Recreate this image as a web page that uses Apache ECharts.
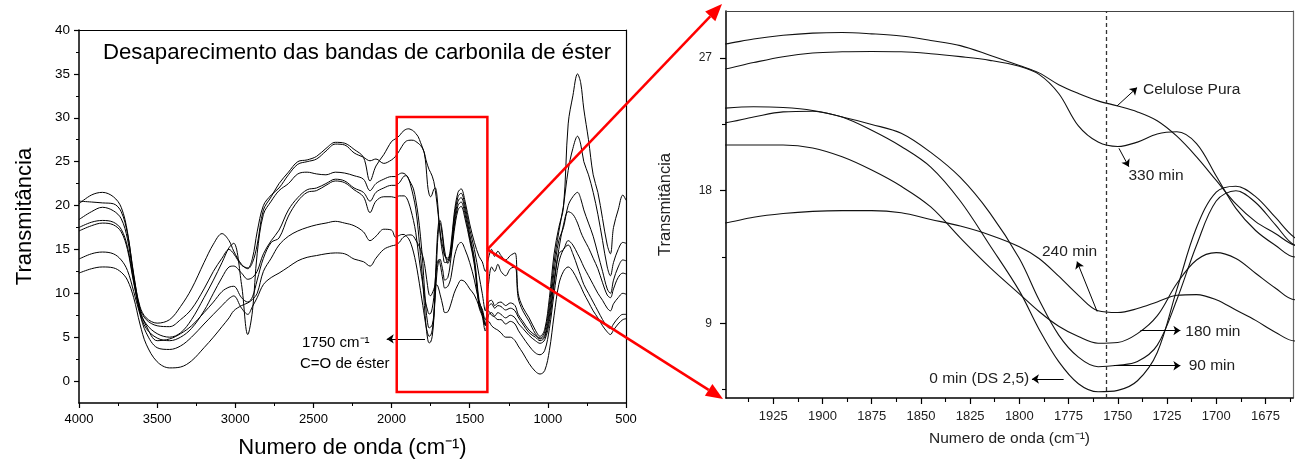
<!DOCTYPE html>
<html>
<head>
<meta charset="utf-8">
<script src="https://cdn.jsdelivr.net/npm/echarts@6/dist/echarts.min.js"></script>
<style>
  html, body { margin: 0; padding: 0; background: #fff; }
  #chart { width: 1299px; height: 463px; }
</style>
</head>
<body>
<div id="chart"></div>
<script>
// Wavenumber grid (cm-1) shared by every spectrum
const wavenumbers = [
  4000, 3920, 3850, 3780, 3730, 3690, 3650, 3610, 3570, 3500,
  3420, 3350, 3280, 3200, 3140, 3085, 3040, 3010, 2960, 2920,
  2890, 2860, 2820, 2770, 2720, 2660, 2600, 2540, 2480, 2420,
  2360, 2300, 2240, 2180, 2138, 2100, 2050, 2000,
  1975, 1950, 1935, 1920, 1905, 1890, 1875, 1860, 1845, 1830,
  1815, 1800, 1790, 1780, 1770, 1760, 1750, 1740, 1730, 1720,
  1710, 1700, 1690, 1680, 1670, 1660,
  1640, 1620, 1600, 1575, 1555, 1530, 1500, 1470, 1440, 1420,
  1400, 1380, 1360, 1340, 1320, 1300, 1270, 1240, 1210, 1190,
  1160, 1120, 1080, 1050, 1020, 990, 960, 930, 900, 870,
  840, 810, 790, 770, 740, 710, 680, 650, 620, 600,
  580, 550, 520, 500
];

// Transmittance (%) of each sample on the grid above
const celulosePura = [
  20.2, 21.2, 21.5, 21.0, 19.8, 17.0, 12.0, 8.5, 7.2, 6.6,
  7.0, 8.5, 10.5, 13.5, 15.6, 16.8, 16.0, 14.8, 13.3, 12.8,
  13.5, 15.5, 19.5, 21.0, 22.5, 23.8, 25.0, 25.2, 25.6, 26.5,
  27.2, 27.1, 26.4, 25.5, 22.8, 24.5, 25.8, 27.3,
  27.6, 27.95, 28.3, 28.55, 28.7, 28.74, 28.65, 28.5, 28.2, 27.85,
  27.2, 26.5, 26.0, 25.2, 24.6, 24.1, 23.75, 23.35, 22.75, 21.7,
  20.3, 18.7, 17.1, 15.9, 15.1, 14.3,
  14.0, 15.5, 19.0, 21.5, 21.9, 20.5, 17.9, 15.8, 14.2, 13.6,
  12.5, 14.0, 15.0, 14.2, 14.8, 14.3, 13.8, 14.3, 14.6, 10.0,
  8.4, 7.2, 5.8, 5.1, 5.9, 9.5, 14.5, 17.5, 19.8, 29.3,
  32.5, 35.0, 34.0, 31.0, 27.5, 23.5, 21.5, 18.5, 15.5, 14.5,
  17.5, 19.5, 21.2, 20.6
];
const min330 = [
  20.5, 20.4, 20.3, 20.2, 19.3, 16.8, 12.2, 8.3, 7.0, 6.3,
  6.2, 7.0, 8.2, 10.5, 12.5, 14.0, 15.0, 14.5, 13.2, 12.9,
  14.0, 17.0, 20.0, 21.2, 22.0, 23.5, 24.7, 25.0, 25.3, 26.2,
  27.0, 26.9, 26.0, 25.5, 25.1, 25.3, 24.8, 25.2,
  25.6, 26.25, 26.7, 27.1, 27.35, 27.43, 27.45, 27.43, 27.3, 27.1,
  26.85, 26.45, 25.9, 24.6, 22.4, 21.3, 21.0, 21.3, 21.85, 22.0,
  21.2, 19.0, 16.8, 15.3, 14.3, 13.5,
  13.6, 15.0, 18.5, 21.0, 21.4, 20.0, 17.3, 15.0, 12.0, 10.0,
  8.0, 11.0, 13.0, 12.5, 13.3, 12.5, 12.0, 12.8, 13.0, 9.5,
  8.0, 6.8, 5.4, 4.9, 5.6, 8.7, 13.5, 17.0, 20.0, 24.0,
  26.5, 27.9, 27.0, 25.0, 23.5, 21.5, 19.0, 16.0, 13.0, 12.0,
  13.5, 15.0, 15.8, 15.7
];
const min240 = [
  13.9, 14.5, 14.7, 14.5, 13.8, 12.6, 10.2, 7.6, 5.5, 3.8,
  3.6, 4.0, 5.0, 6.5, 7.6, 8.6, 9.4, 9.7, 8.3, 7.6,
  8.5, 9.5, 11.0, 11.8, 12.3, 13.0, 13.7, 14.1, 14.3, 14.5,
  14.6, 14.5, 13.9, 13.6, 13.1, 14.0, 15.0, 15.4,
  15.5, 15.8, 16.2, 16.45, 16.6, 16.65, 16.65, 16.5, 16.05, 15.6,
  15.0, 14.2, 13.4, 12.2, 10.9, 9.85, 9.73, 10.0, 10.45, 10.9,
  10.95, 10.6, 9.9, 9.2, 8.4, 7.8,
  7.9, 8.8, 10.0, 11.0, 11.5, 11.3, 10.5, 9.8, 8.5, 7.6,
  6.4, 6.8, 6.3, 6.0, 5.8, 5.5, 5.0, 5.0, 4.6, 4.0,
  3.2, 2.0, 1.1, 0.8, 1.2, 3.5, 7.5, 11.0, 12.5, 13.0,
  12.5, 11.5, 10.8, 10.0, 9.0, 8.0, 7.2, 6.3, 5.6, 5.3,
  5.8, 6.5, 7.0, 7.1
];
const min180 = [
  17.1, 17.7, 18.0, 17.8, 17.0, 15.0, 11.2, 8.0, 6.3, 4.6,
  4.8, 5.4, 6.3, 7.8, 9.0, 10.2, 10.7, 10.8, 9.5, 9.0,
  9.6, 11.5, 14.0, 15.8, 16.3, 18.8, 20.5, 21.5, 21.7, 22.3,
  22.8, 22.6, 21.8, 21.0, 19.2, 20.5, 21.0, 21.0,
  20.9, 21.1, 21.1, 21.1, 20.9, 20.3, 19.4, 18.3, 16.9, 14.8,
  12.8, 11.0, 9.8, 8.8, 8.1, 7.65, 7.7, 8.3, 9.5, 11.7,
  13.3, 13.8, 13.4, 12.4, 11.4, 10.6,
  10.8, 11.8, 14.0, 15.5, 15.8, 15.0, 13.5, 11.5, 9.0, 8.2,
  7.0, 8.0, 7.5, 7.3, 7.0, 7.0, 6.5, 6.8, 6.5, 5.8,
  5.0, 4.0, 3.2, 3.0, 3.5, 6.0, 10.0, 13.5, 15.0, 15.5,
  14.5, 13.0, 12.0, 11.0, 10.0, 9.0, 8.0, 7.0, 6.2, 6.0,
  6.5, 7.2, 7.6, 7.6
];
const min90 = [
  17.5, 18.1, 18.3, 18.1, 17.3, 15.3, 11.4, 7.8, 6.0, 4.9,
  4.6, 5.0, 6.0, 8.0, 10.0, 11.8, 13.0, 13.1, 12.3, 11.6,
  11.8, 12.5, 14.5, 16.0, 17.2, 19.5, 20.9, 21.8, 22.0, 22.5,
  23.0, 22.8, 22.0, 21.5, 20.5, 21.5, 22.0, 22.3,
  22.3, 22.6, 23.0, 23.35, 23.4, 23.0, 22.5, 21.9, 20.6, 18.9,
  16.5, 13.4, 10.6, 8.2, 6.7, 6.05, 6.15, 6.4, 7.5, 10.6,
  14.3, 17.3, 18.0, 17.2, 15.7, 14.3,
  13.8, 14.8, 17.5, 20.0, 20.4, 19.0, 16.3, 13.6, 8.8, 7.8,
  6.3, 8.5, 8.8, 8.3, 8.6, 8.5, 8.1, 8.3, 8.0, 7.3,
  6.5, 5.5, 5.0, 4.6, 5.0, 7.4, 11.5, 15.0, 17.8, 19.3,
  19.0, 18.0, 17.0, 16.2, 15.2, 14.0, 12.8, 11.2, 9.8, 9.5,
  10.5, 11.8, 12.3, 12.2
];
const min0 = [
  18.4, 19.3, 19.8, 19.4, 18.5, 16.2, 11.8, 8.0, 6.5, 5.4,
  5.0, 5.5, 7.0, 9.5, 11.5, 13.5, 15.2, 15.7, 11.0, 5.3,
  8.0, 14.5, 19.0, 20.5, 21.7, 22.5, 23.6, 23.8, 23.6, 23.5,
  23.8, 23.7, 23.4, 23.0, 21.7, 22.5, 23.0, 23.3,
  23.3, 23.6, 23.7, 23.65, 23.45, 23.0, 22.1, 21.0, 19.6, 17.3,
  14.3, 11.2, 8.6, 6.4, 4.9, 4.35, 4.45, 5.1, 7.0, 11.3,
  15.5, 17.9, 18.3, 17.6, 16.2, 14.8,
  13.4, 14.5, 18.0, 20.5, 20.9, 19.5, 16.7, 14.0, 9.2, 8.0,
  6.5, 9.0, 9.2, 8.6, 8.9, 9.0, 8.6, 8.9, 8.6, 7.6,
  6.8, 5.8, 5.2, 4.8, 5.2, 8.0, 12.5, 16.0, 17.5, 20.0,
  21.0, 21.5, 20.8, 19.5, 18.0, 16.5, 14.5, 12.5, 10.5, 10.0,
  11.5, 13.0, 13.8, 13.7
];
const amostraDS = [
  12.3, 12.8, 13.0, 12.9, 12.4, 11.5, 9.5, 6.5, 4.2, 2.2,
  1.5, 1.6, 2.3, 3.8, 5.0, 6.2, 7.2, 8.0, 8.6, 8.9,
  9.3, 10.0, 12.5, 14.0, 15.5, 16.5, 17.1, 17.5, 17.8, 18.0,
  18.2, 18.0, 17.7, 17.0, 16.0, 16.5, 17.3, 17.2,
  16.4, 16.6, 16.7, 16.7, 16.5, 16.2, 15.6, 14.7, 13.5, 12.0,
  10.3, 8.6, 7.4, 6.3, 5.5, 5.1, 5.2, 5.8, 7.2, 9.8,
  12.3, 13.6, 13.9, 13.3, 12.4, 11.5,
  11.8, 14.0, 17.0, 19.5, 19.9, 18.5, 16.0, 13.2, 8.4, 7.4,
  5.7, 7.5, 7.8, 7.4, 7.8, 7.6, 7.2, 7.5, 7.2, 6.6,
  6.0, 5.2, 4.6, 4.3, 4.7, 6.8, 11.0, 14.5, 15.0, 16.0,
  15.5, 14.5, 13.8, 13.0, 12.0, 11.0, 10.0, 9.2, 8.3, 8.0,
  8.8, 9.5, 10.0, 9.9
];

// Axis tick values
const fullYTicks = [0, 5, 10, 15, 20, 25, 30, 35, 40];
const fullYMinor = [2.5, 7.5, 12.5, 17.5, 22.5, 27.5, 32.5, 37.5];
const zoomXTicks = [1675, 1700, 1725, 1750, 1775, 1800, 1825, 1850, 1875, 1900, 1925];
const zoomXMinor = [1662.5, 1687.5, 1712.5, 1737.5, 1762.5, 1787.5, 1812.5, 1837.5, 1862.5, 1887.5, 1912.5, 1937.5];
const zoomYTicks = [9, 18, 27];
const zoomYMinor = [4.5, 13.5, 22.5];

// Carbonyl band marked in the full spectrum and shown enlarged on the right
const carbonylWindow = { from: 1967, to: 1387, top: 30.1, bottom: -1.25 };
const esterBand = 1756;

const FONT = '"Liberation Sans", Arial, Helvetica, sans-serif';
const pairs = v => wavenumbers.map((w, i) => [w, v[i]]);
const plain = v => String(v);

const fullSpectra = [celulosePura, min330, min240, min180, min90, min0, amostraDS];
const zoomSpectra = [
  { name: 'Celulose Pura', v: celulosePura },
  { name: '330 min', v: min330 },
  { name: '240 min', v: min240 },
  { name: '180 min', v: min180 },
  { name: '90 min', v: min90 },
  { name: '0 min (DS 2,5)', v: min0 }
];

const chart = echarts.init(document.getElementById('chart'));

const lineBase = {
  type: 'line', showSymbol: false, symbol: 'none', smooth: 0.35,
  silent: true, animation: false, clip: true,
  emphasis: { disabled: true }
};

const series = [];
fullSpectra.forEach((v, i) => {
  const s = Object.assign({}, lineBase, {
    name: 'full' + i, xAxisIndex: 0, yAxisIndex: 0, data: pairs(v),
    lineStyle: { color: '#000', width: 1 }
  });
  if (i === 0) {
    s.markArea = {
      silent: true, z: 10,
      itemStyle: { color: 'rgba(0,0,0,0)', borderColor: '#ff0000', borderWidth: 2.5 },
      data: [[
        { xAxis: carbonylWindow.from, yAxis: carbonylWindow.top },
        { xAxis: carbonylWindow.to, yAxis: carbonylWindow.bottom }
      ]]
    };
    s.markLine = {
      silent: true, animation: false, symbol: ['none', 'arrow'], symbolSize: 7,
      label: { show: false },
      lineStyle: { color: '#000', width: 1, type: 'solid' },
      data: [[{ coord: [1786, 4.8] }, { coord: [2031, 4.8] }]]
    };
  }
  series.push(s);
});

zoomSpectra.forEach((c, i) => {
  const s = Object.assign({}, lineBase, {
    name: c.name, xAxisIndex: 2, yAxisIndex: 3, data: pairs(c.v),
    lineStyle: { color: '#111', width: 1.1 }
  });
  if (i === 0) {
    s.markLine = {
      silent: true, animation: false, symbol: ['none', 'none'],
      label: { show: false },
      lineStyle: { color: '#333', width: 1.3, type: [4, 3] },
      data: [{ xAxis: esterBand }]
    };
  }
  if (i === 1) {
    s.markLine = {
      silent: true, animation: false, symbol: ['none', 'arrow'], symbolSize: 7,
      label: { show: false },
      lineStyle: { color: '#000', width: 1, type: 'solid' },
      data: [
        [{ coord: [1750.4, 23.75] }, { coord: [1740.2, 25.0] }],
        [{ coord: [1749.4, 20.88] }, { coord: [1744.4, 19.63] }],
        [{ coord: [1760.5, 9.8] }, { coord: [1770.7, 13.19] }],
        [{ coord: [1738.5, 8.51] }, { coord: [1718.2, 8.51] }],
        [{ coord: [1752.0, 6.12] }, { coord: [1718.2, 6.12] }],
        [{ coord: [1777.5, 5.22] }, { coord: [1793.6, 5.22] }]
      ]
    };
  }
  series.push(s);
});

const blank = { show: false };
const tickLbl = (size, color, margin, values) => ({
  show: true, color: color, fontSize: size, fontFamily: FONT, margin: margin,
  customValues: values, showMinLabel: true, showMaxLabel: true, formatter: plain
});

const option = {
  animation: false,
  backgroundColor: '#fff',
  grid: [
    { left: 79, top: 30, width: 547, height: 373, outerBoundsMode: 'none', containLabel: false },
    { left: 726, top: 11, width: 567, height: 387, outerBoundsMode: 'none', containLabel: false }
  ],
  xAxis: [
    { // 0: full spectrum, bottom
      gridIndex: 0, type: 'value', min: 500, max: 4000, interval: 500, inverse: true, position: 'bottom',
      axisLine: { onZero: false, lineStyle: { color: '#000', width: 1.5 } },
      axisTick: { show: true, length: 5, lineStyle: { color: '#000', width: 1.2 } },
      minorTick: { show: true, splitNumber: 2, length: 3, lineStyle: { color: '#000', width: 1 } },
      axisLabel: { color: '#000', fontSize: 13, fontFamily: FONT, margin: 10, showMinLabel: true, showMaxLabel: true, formatter: plain },
      splitLine: blank, minorSplitLine: blank,
      name: 'Numero de onda (cm⁻¹)', nameLocation: 'middle', nameGap: 34,
      nameTextStyle: { color: '#000', fontSize: 22, fontFamily: FONT }
    },
    { // 1: full spectrum, top frame
      gridIndex: 0, type: 'value', min: 500, max: 4000, inverse: true, position: 'top',
      axisLine: { onZero: false, lineStyle: { color: '#000', width: 1.2 } },
      axisTick: blank, axisLabel: blank, splitLine: blank
    },
    { // 2: enlarged band, bottom
      gridIndex: 1, type: 'value', min: 1661, max: 1949, inverse: true, position: 'bottom',
      axisLine: { onZero: false, lineStyle: { color: '#000', width: 1.5 } },
      axisTick: { show: true, length: 6, customValues: zoomXTicks, lineStyle: { color: '#000', width: 1.2 } },
      axisLabel: tickLbl(13, '#222', 12, zoomXTicks),
      splitLine: blank,
      name: 'Numero de onda (cm⁻¹)', nameLocation: 'middle', nameGap: 33,
      nameTextStyle: { color: '#222', fontSize: 15.5, fontFamily: FONT }
    },
    { // 3: enlarged band, minor ticks
      gridIndex: 1, type: 'value', min: 1661, max: 1949, inverse: true, position: 'bottom',
      axisLine: { show: false, onZero: false },
      axisTick: { show: true, length: 4, customValues: zoomXMinor, lineStyle: { color: '#000', width: 1.1 } },
      axisLabel: blank, splitLine: blank
    },
    { // 4: enlarged band, top frame
      gridIndex: 1, type: 'value', min: 1661, max: 1949, inverse: true, position: 'top',
      axisLine: { onZero: false, lineStyle: { color: '#444', width: 1.2 } },
      axisTick: blank, axisLabel: blank, splitLine: blank
    }
  ],
  yAxis: [
    { // 0: full spectrum, left
      gridIndex: 0, type: 'value', min: -2.5, max: 40, position: 'left',
      axisLine: { show: true, onZero: false, lineStyle: { color: '#000', width: 1.5 } },
      axisTick: { show: true, length: 5, customValues: fullYTicks, lineStyle: { color: '#000', width: 1.2 } },
      axisLabel: tickLbl(13.5, '#000', 9, fullYTicks),
      splitLine: blank,
      name: 'Transmitância', nameLocation: 'middle', nameGap: 43, nameRotate: 90,
      nameTextStyle: { color: '#000', fontSize: 22, fontFamily: FONT }
    },
    { // 1: full spectrum, minor ticks
      gridIndex: 0, type: 'value', min: -2.5, max: 40, position: 'left',
      axisLine: { show: false, onZero: false },
      axisTick: { show: true, length: 3, customValues: fullYMinor, lineStyle: { color: '#000', width: 1 } },
      axisLabel: blank, splitLine: blank
    },
    { // 2: full spectrum, right frame
      gridIndex: 0, type: 'value', min: -2.5, max: 40, position: 'right',
      axisLine: { show: true, onZero: false, lineStyle: { color: '#000', width: 1.2 } },
      axisTick: blank, axisLabel: blank, splitLine: blank
    },
    { // 3: enlarged band, left
      gridIndex: 1, type: 'value', min: 3.93, max: 30.2, position: 'left',
      axisLine: { show: true, onZero: false, lineStyle: { color: '#000', width: 1.5 } },
      axisTick: { show: true, length: 6, customValues: zoomYTicks, lineStyle: { color: '#000', width: 1.2 } },
      axisLabel: tickLbl(12, '#222', 14, zoomYTicks),
      splitLine: blank,
      name: 'Transmitância', nameLocation: 'middle', nameGap: 52, nameRotate: 90,
      nameTextStyle: { color: '#222', fontSize: 16.5, fontFamily: FONT }
    },
    { // 4: enlarged band, minor ticks
      gridIndex: 1, type: 'value', min: 3.93, max: 30.2, position: 'left',
      axisLine: { show: false, onZero: false },
      axisTick: { show: true, length: 4, customValues: zoomYMinor, lineStyle: { color: '#000', width: 1.1 } },
      axisLabel: blank, splitLine: blank
    },
    { // 5: enlarged band, right frame
      gridIndex: 1, type: 'value', min: 3.93, max: 30.2, position: 'right',
      axisLine: { show: true, onZero: false, lineStyle: { color: '#666', width: 1.2 } },
      axisTick: blank, axisLabel: blank, splitLine: blank
    }
  ],
  series: series
};

chart.setOption(option);

// Text labels and the red connector arrows, placed from data coordinates
const toFull = p => chart.convertToPixel({ xAxisIndex: 0, yAxisIndex: 0 }, p);
const toZoom = p => chart.convertToPixel({ xAxisIndex: 2, yAxisIndex: 3 }, p);

function label(pt, text, size, align, color) {
  return {
    type: 'text', x: pt[0], y: pt[1], z: 100, silent: true,
    style: { text: text, fontSize: size, fontFamily: FONT, fill: color || '#000', align: align || 'left', verticalAlign: 'middle' }
  };
}

function redArrow(from, to) {
  const dx = to[0] - from[0], dy = to[1] - from[1];
  const len = Math.sqrt(dx * dx + dy * dy);
  const ux = dx / len, uy = dy / len;
  const head = 17, half = 7;
  const bx = to[0] - ux * head, by = to[1] - uy * head;
  return [
    { type: 'line', z: 100, silent: true,
      shape: { x1: from[0], y1: from[1], x2: bx, y2: by },
      style: { stroke: '#ff0000', lineWidth: 2.5 } },
    { type: 'polygon', z: 100, silent: true,
      shape: { points: [[to[0], to[1]], [bx - uy * half, by + ux * half], [bx + uy * half, by - ux * half]] },
      style: { fill: '#ff0000' } }
  ];
}

const boxEdge = toFull([carbonylWindow.to, 15.0]);
const zoomTopLeft = toZoom([1949, 30.2]);
const zoomBottomLeft = toZoom([1949, 3.93]);

const graphics = [
  { type: 'text', left: 103, top: 42, z: 100, silent: true,
    style: { text: 'Desaparecimento das bandas de carbonila de éster', fontSize: 22.2, fontFamily: FONT, fill: '#000' } },
  label(toFull([2573, 4.33]), '1750 cm⁻¹', 15),
  label(toFull([2586, 1.97]), 'C=O de éster', 15),
  label(toZoom([1737.2, 24.83]), 'Celulose Pura', 15.5, 'left', '#222'),
  label(toZoom([1744.6, 19.0]), '330 min', 15.5, 'left', '#222'),
  label(toZoom([1788.5, 13.87]), '240 min', 15.5, 'left', '#222'),
  label(toZoom([1715.7, 8.44]), '180 min', 15.5, 'left', '#222'),
  label(toZoom([1714.0, 6.12]), '90 min', 15.5, 'left', '#222'),
  label(toZoom([1795.0, 5.22]), '0 min (DS 2,5)', 15.5, 'right', '#222')
]
  .concat(redArrow(boxEdge, [zoomTopLeft[0] - 4, zoomTopLeft[1] - 7]))
  .concat(redArrow(boxEdge, [zoomBottomLeft[0] - 3, zoomBottomLeft[1] + 1]));

chart.setOption({ graphic: graphics });
</script>
</body>
</html>
